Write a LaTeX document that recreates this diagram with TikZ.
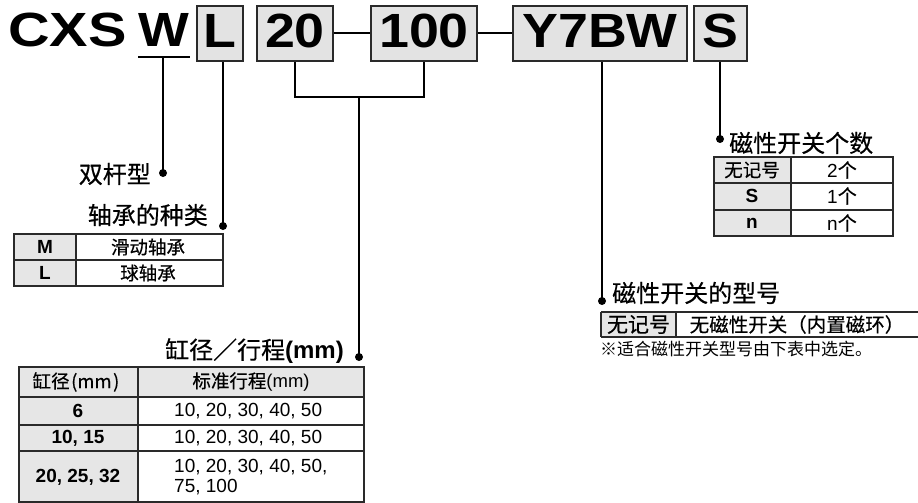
\documentclass[tikz,border=0pt]{standalone}
\usepackage{fontspec}
\setmainfont{Liberation Sans}
\newfontfamily\cjk{Noto Sans CJK SC}[FakeBold=0.45]
\newfontfamily\cjklight{Noto Sans CJK SC}
\newfontfamily\titlefont{Liberation Sans}[FakeStretch=1.12]
\newfontfamily\titlewide{Liberation Sans}[FakeStretch=1.2]
\definecolor{boxgray}{HTML}{E3E3E3}
\definecolor{cellgray}{HTML}{E6E6E6}
\definecolor{linegray}{HTML}{2A2A2A}
\begin{document}
\begin{tikzpicture}[x=1pt,y=-1pt,
  title/.style={font=\fontsize{48}{48}\selectfont\titlefont\bfseries, inner sep=0pt},
  tbox/.style={title, draw=linegray, line width=1.8pt, fill=boxgray,
    text height=42pt, text depth=13pt, anchor=north},
  conn/.style={line width=2pt, draw=black},
  dotc/.style={circle, fill=black, inner sep=0pt, minimum size=8pt},
  lbl/.style={font=\fontsize{24}{24}\selectfont\cjk, inner sep=0pt},
  tc/.style={font=\fontsize{18.5}{18.5}\selectfont\cjk, inner sep=0pt},
  tl/.style={font=\fontsize{19}{19}\selectfont\bfseries, inner sep=0pt},
  tn/.style={font=\fontsize{19}{19}\selectfont, inner sep=0pt},
  grid/.style={draw=linegray, line width=1.1pt},
  topline/.style={draw=linegray, line width=2pt}
]
\useasboundingbox (0,0) rectangle (918,503);

% ---------- title row ----------
\node[title, font=\fontsize{48}{48}\selectfont\titlewide\bfseries, anchor=base] (cxs) at (67.5,47) {CXS};
\node[title, anchor=base] (w) at (164,47) {W};
\coordinate (wul) at (138,57);
\coordinate (wur) at (190,57);
\draw[conn] (wul) -- (wur);
\node[tbox, minimum width=46pt] (bL) at (220,5) {L};
\node[tbox, minimum width=76pt] (b20) at (295,5) {20};
\node[tbox, minimum width=106pt] (b100) at (424,5) {100};
\node[tbox, minimum width=174pt] (bY) at (600,5) {Y7BW};
\node[tbox, minimum width=53pt] (bS) at (720.5,5) {S};
\draw[conn] (b20.east) -- (b100.west);
\draw[conn] (b100.east) -- (bY.west);

% ---------- connectors ----------
\coordinate (wstem) at (163,57);
\node[dotc] (dW) at (163,173) {};
\node[dotc] (dL) at (223,226) {};
\coordinate (brk) at (359,97);
\node[dotc] (dB) at (359,357) {};
\node[dotc] (dY) at (602,301) {};
\node[dotc] (dS) at (720,139) {};
\draw[conn] (wstem) -- (dW.center);
\draw[conn] (bL.south -| dL) -- (dL.center);
\draw[conn] (b20.south) |- (brk) -| (b100.south);
\draw[conn] (brk) -- (dB.center);
\draw[conn] (bY.south -| dY) -- (dY.center);
\draw[conn] (bS.south -| dS) -- (dS.center);

% ---------- labels ----------
\node[lbl, anchor=east] (l1) at (151,174) {双杆型};
\node[lbl, anchor=east] (l2) at (208,215) {轴承的种类};
\node[lbl, anchor=east] (l3) at (344,351) {缸径／行程\fontspec{Liberation Sans}\bfseries(mm)};
\node[lbl, anchor=west] (l4) at (729,143) {磁性开关个数};
\node[lbl, anchor=west] (l5) at (612,293) {磁性开关的型号};

% ---------- table A: bearing ----------
\fill[cellgray] (14,234) rectangle (76,286);
\draw[grid] (14,234) rectangle (223,286) (14,260) -- (223,260) (76,234) -- (76,286);
\draw[topline] (14,234) -- (223,234);
\node[tl] (aM) at (45,247) {M};
\node[tc] (aMt) at (148,247) {滑动轴承};
\node[tl] (aL) at (45,273) {L};
\node[tc] (aLt) at (148,273) {球轴承};

% ---------- table B: bore / stroke ----------
\fill[cellgray] (19,367) rectangle (364,397);
\fill[cellgray] (19,397) rectangle (138,502);
\draw[grid] (19,367) rectangle (364,502)
  (19,397) -- (364,397) (19,425) -- (364,425) (19,451) -- (364,451)
  (138,367) -- (138,502);
\draw[topline] (19,367) -- (364,367);
\node[tc] (bh1) at (76,382) {缸径\kern1.5pt(mm\kern1.5pt)};
\node[tc] (bh2) at (251,382) {标准行程\fontspec{Liberation Sans}(mm)};
\node[tl] (b6) at (78,411) {6};
\node[tn, anchor=west] (b6s) at (174,411) {10, 20, 30, 40, 50};
\node[tl] (b10) at (78,438) {10, 15};
\node[tn, anchor=west] (b10s) at (174,438) {10, 20, 30, 40, 50};
\node[tl] (b20r) at (78,477) {20, 25, 32};
\node[tn, anchor=west] (b20s1) at (174,467) {10, 20, 30, 40, 50,};
\node[tn, anchor=west] (b20s2) at (174,487) {75, 100};

% ---------- table C: number of switches ----------
\fill[cellgray] (714,157) rectangle (791,236);
\draw[grid] (714,157) rectangle (893,236)
  (714,183) -- (893,183) (714,210) -- (893,210) (791,157) -- (791,236);
\draw[topline] (714,157) -- (893,157);
\node[tc] (c1) at (752,170) {无记号};
\node[tn] (c1v) at (842,170) {2{\cjk 个}};
\node[tl] (c2) at (752,196) {S};
\node[tn] (c2v) at (842,196) {1{\cjk 个}};
\node[tl] (c3) at (752,223) {n};
\node[tn] (c3v) at (842,223) {n{\cjk 个}};

% ---------- table D: switch model ----------
\fill[cellgray] (601,312) rectangle (676,337);
\draw[grid] (601,312) -- (601,337) (676,312) -- (676,337) (601,337) -- (918,337);
\draw[topline] (601,312) -- (918,312);
\node[tc, font=\fontsize{21}{21}\selectfont\cjk] (d1) at (638.5,324.5) {无记号};
\node[tc, font=\fontsize{19.5}{19.5}\selectfont\cjk] (d1v) at (797,324.5) {无磁性开关（内置磁环）};
\node[tc, anchor=west, font=\fontsize{17}{17}\selectfont\cjklight] (note) at (600,349) {※适合磁性开关型号由下表中选定。};
\end{tikzpicture}
\end{document}
